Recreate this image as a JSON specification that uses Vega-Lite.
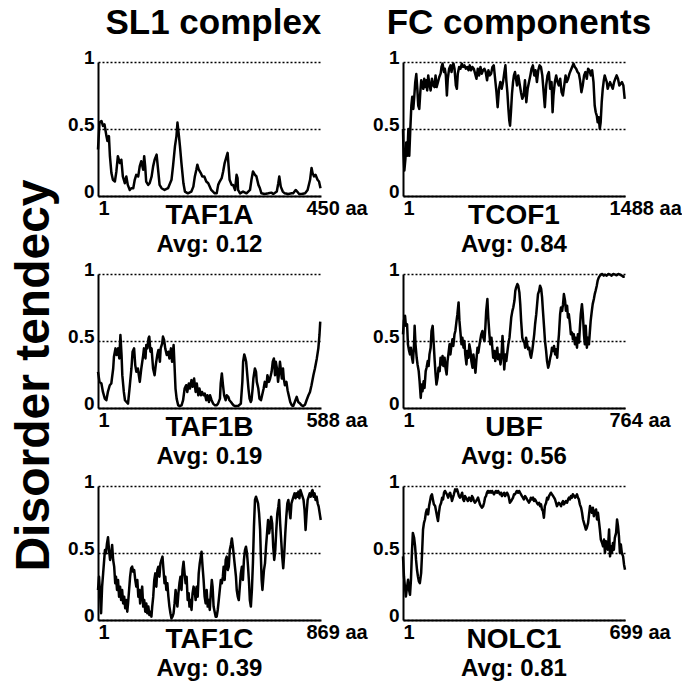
{
 "$schema": "https://vega.github.io/schema/vega-lite/v6.json",
 "padding": {"left": 10, "top": 6, "right": 0, "bottom": 0},
 "background": "white",
 "title": {"text": "Disorder tendecy", "orient": "left", "anchor": "middle", "frame": "bounds", "fontSize": 48, "fontWeight": "bold", "offset": 9, "dx": -32, "color": "black"},
 "datasets": {
  "taf1a": [
   {"residue":1,"score":0.347},{"residue":4,"score":0.548},{"residue":8,"score":0.56},{"residue":11,"score":0.523},{"residue":14,"score":0.535},{"residue":18,"score":0.447},{"residue":20,"score":0.41},{"residue":23,"score":0.447},{"residue":25,"score":0.297},{"residue":28,"score":0.171},{"residue":31,"score":0.121},{"residue":35,"score":0.108},{"residue":38,"score":0.183},{"residue":41,"score":0.297},{"residue":45,"score":0.246},{"residue":48,"score":0.271},{"residue":51,"score":0.146},{"residue":55,"score":0.095},{"residue":58,"score":0.146},{"residue":61,"score":0.083},{"residue":65,"score":0.045},{"residue":68,"score":0.058},{"residue":72,"score":0.058},{"residue":75,"score":0.121},{"residue":78,"score":0.158},{"residue":82,"score":0.146},{"residue":85,"score":0.221},{"residue":88,"score":0.259},{"residue":92,"score":0.196},{"residue":94,"score":0.297},{"residue":96,"score":0.221},{"residue":98,"score":0.108},{"residue":102,"score":0.083},{"residue":105,"score":0.095},{"residue":109,"score":0.146},{"residue":112,"score":0.221},{"residue":115,"score":0.271},{"residue":119,"score":0.309},{"residue":122,"score":0.196},{"residue":125,"score":0.083},{"residue":129,"score":0.058},{"residue":135,"score":0.045},{"residue":142,"score":0.058},{"residue":149,"score":0.121},{"residue":152,"score":0.221},{"residue":156,"score":0.372},{"residue":159,"score":0.447},{"residue":161,"score":0.548},{"residue":164,"score":0.447},{"residue":166,"score":0.372},{"residue":169,"score":0.246},{"residue":173,"score":0.095},{"residue":176,"score":0.033},{"residue":182,"score":0.02},{"residue":189,"score":0.033},{"residue":193,"score":0.07},{"residue":196,"score":0.146},{"residue":199,"score":0.196},{"residue":201,"score":0.234},{"residue":204,"score":0.196},{"residue":208,"score":0.171},{"residue":211,"score":0.146},{"residue":215,"score":0.146},{"residue":219,"score":0.108},{"residue":223,"score":0.095},{"residue":229,"score":0.045},{"residue":236,"score":0.02},{"residue":240,"score":0.02},{"residue":243,"score":0.083},{"residue":246,"score":0.108},{"residue":250,"score":0.133},{"residue":253,"score":0.183},{"residue":256,"score":0.246},{"residue":260,"score":0.297},{"residue":262,"score":0.322},{"residue":264,"score":0.221},{"residue":266,"score":0.121},{"residue":270,"score":0.083},{"residue":273,"score":0.083},{"residue":277,"score":0.045},{"residue":280,"score":0.158},{"residue":282,"score":0.133},{"residue":283,"score":0.045},{"residue":287,"score":0.02},{"residue":293,"score":0.033},{"residue":300,"score":0.02},{"residue":307,"score":0.045},{"residue":310,"score":0.121},{"residue":313,"score":0.183},{"residue":317,"score":0.158},{"residue":320,"score":0.146},{"residue":324,"score":0.083},{"residue":327,"score":0.058},{"residue":330,"score":0.02},{"residue":337,"score":0.015},{"residue":344,"score":0.02},{"residue":350,"score":0.025},{"residue":354,"score":0.015},{"residue":361,"score":0.033},{"residue":364,"score":0.095},{"residue":366,"score":0.146},{"residue":369,"score":0.07},{"residue":373,"score":0.033},{"residue":377,"score":0.02},{"residue":384,"score":0.015},{"residue":391,"score":0.02},{"residue":394,"score":0.02},{"residue":399,"score":0.045},{"residue":402,"score":0.033},{"residue":406,"score":0.015},{"residue":411,"score":0.015},{"residue":418,"score":0.02},{"residue":423,"score":0.045},{"residue":428,"score":0.121},{"residue":431,"score":0.209},{"residue":433,"score":0.171},{"residue":436,"score":0.146},{"residue":439,"score":0.158},{"residue":443,"score":0.121},{"residue":446,"score":0.108},{"residue":449,"score":0.058}
  ],
  "taf1b": [
   {"residue":1,"score":0.27},{"residue":5,"score":0.195},{"residue":10,"score":0.183},{"residue":14,"score":0.12},{"residue":19,"score":0.07},{"residue":23,"score":0.058},{"residue":27,"score":0.12},{"residue":32,"score":0.17},{"residue":36,"score":0.183},{"residue":41,"score":0.295},{"residue":43,"score":0.383},{"residue":47,"score":0.445},{"residue":50,"score":0.395},{"residue":54,"score":0.445},{"residue":57,"score":0.37},{"residue":60,"score":0.545},{"residue":63,"score":0.395},{"residue":65,"score":0.245},{"residue":69,"score":0.12},{"residue":72,"score":0.058},{"residue":76,"score":0.045},{"residue":80,"score":0.033},{"residue":84,"score":0.145},{"residue":89,"score":0.295},{"residue":92,"score":0.42},{"residue":96,"score":0.445},{"residue":99,"score":0.32},{"residue":102,"score":0.27},{"residue":106,"score":0.295},{"residue":111,"score":0.195},{"residue":115,"score":0.295},{"residue":120,"score":0.395},{"residue":122,"score":0.445},{"residue":126,"score":0.37},{"residue":128,"score":0.47},{"residue":131,"score":0.445},{"residue":134,"score":0.52},{"residue":136,"score":0.533},{"residue":139,"score":0.42},{"residue":142,"score":0.445},{"residue":146,"score":0.295},{"residue":150,"score":0.245},{"residue":153,"score":0.32},{"residue":157,"score":0.395},{"residue":160,"score":0.433},{"residue":164,"score":0.345},{"residue":166,"score":0.445},{"residue":170,"score":0.483},{"residue":172,"score":0.533},{"residue":175,"score":0.508},{"residue":178,"score":0.445},{"residue":182,"score":0.395},{"residue":186,"score":0.42},{"residue":189,"score":0.37},{"residue":193,"score":0.445},{"residue":196,"score":0.345},{"residue":200,"score":0.47},{"residue":202,"score":0.345},{"residue":205,"score":0.145},{"residue":208,"score":0.07},{"residue":212,"score":0.02},{"residue":216,"score":0.015},{"residue":221,"score":0.02},{"residue":225,"score":0.058},{"residue":229,"score":0.145},{"residue":233,"score":0.17},{"residue":236,"score":0.12},{"residue":240,"score":0.183},{"residue":243,"score":0.145},{"residue":247,"score":0.208},{"residue":250,"score":0.158},{"residue":254,"score":0.22},{"residue":258,"score":0.12},{"residue":261,"score":0.183},{"residue":265,"score":0.095},{"residue":268,"score":0.145},{"residue":272,"score":0.095},{"residue":275,"score":0.12},{"residue":279,"score":0.095},{"residue":282,"score":0.108},{"residue":286,"score":0.058},{"residue":289,"score":0.095},{"residue":293,"score":0.045},{"residue":296,"score":0.095},{"residue":300,"score":0.058},{"residue":304,"score":0.033},{"residue":309,"score":0.02},{"residue":313,"score":0.02},{"residue":317,"score":0.033},{"residue":322,"score":0.07},{"residue":324,"score":0.183},{"residue":327,"score":0.258},{"residue":330,"score":0.17},{"residue":333,"score":0.095},{"residue":337,"score":0.058},{"residue":340,"score":0.095},{"residue":344,"score":0.083},{"residue":347,"score":0.058},{"residue":351,"score":0.045},{"residue":354,"score":0.033},{"residue":358,"score":0.02},{"residue":361,"score":0.015},{"residue":370,"score":0.015},{"residue":377,"score":0.033},{"residue":381,"score":0.195},{"residue":383,"score":0.345},{"residue":386,"score":0.4},{"residue":389,"score":0.37},{"residue":391,"score":0.345},{"residue":394,"score":0.245},{"residue":397,"score":0.145},{"residue":400,"score":0.07},{"residue":403,"score":0.045},{"residue":405,"score":0.058},{"residue":408,"score":0.145},{"residue":410,"score":0.22},{"residue":414,"score":0.295},{"residue":417,"score":0.27},{"residue":419,"score":0.195},{"residue":423,"score":0.145},{"residue":426,"score":0.07},{"residue":430,"score":0.058},{"residue":433,"score":0.095},{"residue":437,"score":0.145},{"residue":440,"score":0.195},{"residue":444,"score":0.158},{"residue":447,"score":0.245},{"residue":451,"score":0.195},{"residue":454,"score":0.22},{"residue":458,"score":0.27},{"residue":461,"score":0.345},{"residue":464,"score":0.37},{"residue":467,"score":0.245},{"residue":469,"score":0.345},{"residue":472,"score":0.295},{"residue":475,"score":0.195},{"residue":477,"score":0.245},{"residue":480,"score":0.345},{"residue":483,"score":0.27},{"residue":485,"score":0.22},{"residue":488,"score":0.295},{"residue":490,"score":0.22},{"residue":493,"score":0.17},{"residue":497,"score":0.195},{"residue":500,"score":0.133},{"residue":504,"score":0.083},{"residue":507,"score":0.045},{"residue":511,"score":0.02},{"residue":515,"score":0.015},{"residue":519,"score":0.045},{"residue":524,"score":0.083},{"residue":528,"score":0.045},{"residue":533,"score":0.033},{"residue":537,"score":0.02},{"residue":541,"score":0.015},{"residue":546,"score":0.025},{"residue":550,"score":0.058},{"residue":555,"score":0.095},{"residue":559,"score":0.12},{"residue":563,"score":0.17},{"residue":568,"score":0.245},{"residue":572,"score":0.295},{"residue":577,"score":0.37},{"residue":581,"score":0.445},{"residue":584,"score":0.545},{"residue":586,"score":0.645}
  ],
  "taf1c": [
   {"residue":1,"score":0.224},{"residue":5,"score":0.323},{"residue":9,"score":0.199},{"residue":13,"score":0.05},{"residue":17,"score":0.249},{"residue":21,"score":0.348},{"residue":24,"score":0.423},{"residue":28,"score":0.522},{"residue":32,"score":0.498},{"residue":36,"score":0.572},{"residue":40,"score":0.617},{"residue":44,"score":0.522},{"residue":48,"score":0.448},{"residue":52,"score":0.485},{"residue":56,"score":0.56},{"residue":60,"score":0.448},{"residue":64,"score":0.398},{"residue":68,"score":0.274},{"residue":71,"score":0.323},{"residue":75,"score":0.224},{"residue":79,"score":0.299},{"residue":83,"score":0.174},{"residue":87,"score":0.249},{"residue":91,"score":0.149},{"residue":95,"score":0.224},{"residue":99,"score":0.124},{"residue":103,"score":0.174},{"residue":107,"score":0.087},{"residue":111,"score":0.149},{"residue":115,"score":0.062},{"residue":118,"score":0.124},{"residue":122,"score":0.224},{"residue":126,"score":0.323},{"residue":130,"score":0.386},{"residue":134,"score":0.398},{"residue":138,"score":0.361},{"residue":142,"score":0.373},{"residue":146,"score":0.299},{"residue":150,"score":0.249},{"residue":154,"score":0.299},{"residue":158,"score":0.174},{"residue":162,"score":0.224},{"residue":165,"score":0.124},{"residue":169,"score":0.199},{"residue":173,"score":0.249},{"residue":177,"score":0.1},{"residue":181,"score":0.149},{"residue":185,"score":0.062},{"residue":189,"score":0.124},{"residue":193,"score":0.05},{"residue":197,"score":0.1},{"residue":201,"score":0.037},{"residue":205,"score":0.062},{"residue":209,"score":0.025},{"residue":212,"score":0.1},{"residue":216,"score":0.174},{"residue":220,"score":0.299},{"residue":224,"score":0.348},{"residue":228,"score":0.249},{"residue":232,"score":0.373},{"residue":236,"score":0.398},{"residue":240,"score":0.323},{"residue":244,"score":0.423},{"residue":248,"score":0.448},{"residue":252,"score":0.473},{"residue":256,"score":0.373},{"residue":260,"score":0.274},{"residue":263,"score":0.323},{"residue":267,"score":0.224},{"residue":271,"score":0.274},{"residue":275,"score":0.174},{"residue":279,"score":0.1},{"residue":283,"score":0.05},{"residue":287,"score":0.012},{"residue":291,"score":0.025},{"residue":295,"score":0.05},{"residue":299,"score":0.124},{"residue":303,"score":0.224},{"residue":306,"score":0.174},{"residue":310,"score":0.1},{"residue":314,"score":0.199},{"residue":318,"score":0.274},{"residue":322,"score":0.323},{"residue":326,"score":0.224},{"residue":330,"score":0.373},{"residue":334,"score":0.435},{"residue":338,"score":0.348},{"residue":342,"score":0.274},{"residue":346,"score":0.323},{"residue":350,"score":0.149},{"residue":354,"score":0.199},{"residue":357,"score":0.1},{"residue":361,"score":0.149},{"residue":365,"score":0.075},{"residue":369,"score":0.199},{"residue":373,"score":0.249},{"residue":377,"score":0.224},{"residue":381,"score":0.149},{"residue":385,"score":0.249},{"residue":389,"score":0.174},{"residue":393,"score":0.348},{"residue":397,"score":0.423},{"residue":400,"score":0.46},{"residue":404,"score":0.51},{"residue":408,"score":0.398},{"residue":412,"score":0.299},{"residue":416,"score":0.174},{"residue":420,"score":0.124},{"residue":424,"score":0.224},{"residue":428,"score":0.1},{"residue":432,"score":0.149},{"residue":436,"score":0.075},{"residue":440,"score":0.199},{"residue":444,"score":0.299},{"residue":447,"score":0.249},{"residue":451,"score":0.1},{"residue":455,"score":0.062},{"residue":459,"score":0.025},{"residue":463,"score":0.025},{"residue":467,"score":0.075},{"residue":471,"score":0.149},{"residue":475,"score":0.224},{"residue":479,"score":0.299},{"residue":483,"score":0.274},{"residue":487,"score":0.323},{"residue":490,"score":0.398},{"residue":494,"score":0.299},{"residue":498,"score":0.448},{"residue":502,"score":0.473},{"residue":506,"score":0.373},{"residue":510,"score":0.398},{"residue":514,"score":0.522},{"residue":518,"score":0.56},{"residue":522,"score":0.609},{"residue":526,"score":0.547},{"residue":530,"score":0.473},{"residue":534,"score":0.398},{"residue":538,"score":0.323},{"residue":541,"score":0.224},{"residue":545,"score":0.174},{"residue":549,"score":0.149},{"residue":553,"score":0.249},{"residue":557,"score":0.348},{"residue":561,"score":0.398},{"residue":565,"score":0.299},{"residue":569,"score":0.448},{"residue":573,"score":0.522},{"residue":577,"score":0.547},{"residue":581,"score":0.498},{"residue":585,"score":0.398},{"residue":589,"score":0.274},{"residue":592,"score":0.149},{"residue":596,"score":0.1},{"residue":600,"score":0.224},{"residue":604,"score":0.423},{"residue":608,"score":0.697},{"residue":612,"score":0.896},{"residue":616,"score":0.92},{"residue":620,"score":0.896},{"residue":624,"score":0.871},{"residue":628,"score":0.796},{"residue":632,"score":0.672},{"residue":635,"score":0.473},{"residue":638,"score":0.299},{"residue":641,"score":0.224},{"residue":643,"score":0.274},{"residue":647,"score":0.373},{"residue":651,"score":0.423},{"residue":655,"score":0.547},{"residue":660,"score":0.672},{"residue":663,"score":0.746},{"residue":667,"score":0.647},{"residue":671,"score":0.697},{"residue":675,"score":0.771},{"residue":679,"score":0.721},{"residue":683,"score":0.547},{"residue":687,"score":0.448},{"residue":691,"score":0.522},{"residue":695,"score":0.672},{"residue":699,"score":0.796},{"residue":703,"score":0.846},{"residue":706,"score":0.896},{"residue":710,"score":0.721},{"residue":714,"score":0.597},{"residue":718,"score":0.473},{"residue":722,"score":0.386},{"residue":726,"score":0.498},{"residue":730,"score":0.647},{"residue":734,"score":0.771},{"residue":738,"score":0.871},{"residue":742,"score":0.896},{"residue":746,"score":0.821},{"residue":750,"score":0.759},{"residue":754,"score":0.871},{"residue":758,"score":0.896},{"residue":762,"score":0.92},{"residue":766,"score":0.945},{"residue":770,"score":0.908},{"residue":774,"score":0.945},{"residue":778,"score":0.92},{"residue":781,"score":0.958},{"residue":785,"score":0.908},{"residue":789,"score":0.97},{"residue":793,"score":0.945},{"residue":797,"score":0.92},{"residue":801,"score":0.896},{"residue":805,"score":0.821},{"residue":809,"score":0.672},{"residue":813,"score":0.796},{"residue":817,"score":0.896},{"residue":821,"score":0.92},{"residue":825,"score":0.945},{"residue":829,"score":0.92},{"residue":833,"score":0.958},{"residue":836,"score":0.97},{"residue":840,"score":0.92},{"residue":844,"score":0.945},{"residue":848,"score":0.896},{"residue":852,"score":0.92},{"residue":856,"score":0.871},{"residue":860,"score":0.846},{"residue":864,"score":0.796},{"residue":868,"score":0.746}
  ],
  "tcof1": [
   {"residue":1,"score":0.5},{"residue":5,"score":0.3},{"residue":10,"score":0.19},{"residue":17,"score":0.275},{"residue":23,"score":0.4},{"residue":30,"score":0.3},{"residue":37,"score":0.5},{"residue":43,"score":0.3},{"residue":50,"score":0.5},{"residue":57,"score":0.675},{"residue":63,"score":0.74},{"residue":70,"score":0.65},{"residue":77,"score":0.75},{"residue":83,"score":0.85},{"residue":90,"score":0.91},{"residue":97,"score":0.8},{"residue":103,"score":0.675},{"residue":110,"score":0.65},{"residue":117,"score":0.775},{"residue":123,"score":0.863},{"residue":130,"score":0.825},{"residue":137,"score":0.8},{"residue":143,"score":0.875},{"residue":150,"score":0.813},{"residue":157,"score":0.863},{"residue":163,"score":0.788},{"residue":170,"score":0.9},{"residue":177,"score":0.838},{"residue":186,"score":0.788},{"residue":195,"score":0.875},{"residue":204,"score":0.825},{"residue":212,"score":0.813},{"residue":219,"score":0.9},{"residue":226,"score":0.813},{"residue":235,"score":0.85},{"residue":244,"score":0.888},{"residue":253,"score":0.913},{"residue":259,"score":0.963},{"residue":266,"score":0.988},{"residue":275,"score":0.925},{"residue":281,"score":0.95},{"residue":288,"score":0.9},{"residue":295,"score":0.75},{"residue":301,"score":0.875},{"residue":310,"score":0.95},{"residue":319,"score":0.975},{"residue":326,"score":0.925},{"residue":333,"score":0.975},{"residue":339,"score":0.988},{"residue":346,"score":0.95},{"residue":355,"score":0.825},{"residue":362,"score":0.8},{"residue":368,"score":0.913},{"residue":377,"score":0.963},{"residue":386,"score":0.95},{"residue":395,"score":0.988},{"residue":404,"score":0.963},{"residue":413,"score":0.975},{"residue":422,"score":0.95},{"residue":431,"score":0.963},{"residue":440,"score":0.938},{"residue":448,"score":0.975},{"residue":457,"score":0.938},{"residue":466,"score":0.963},{"residue":475,"score":0.95},{"residue":484,"score":0.913},{"residue":493,"score":0.875},{"residue":502,"score":0.95},{"residue":511,"score":0.9},{"residue":520,"score":0.963},{"residue":529,"score":0.913},{"residue":537,"score":0.938},{"residue":546,"score":0.95},{"residue":555,"score":0.925},{"residue":564,"score":0.863},{"residue":573,"score":0.938},{"residue":582,"score":0.9},{"residue":591,"score":0.913},{"residue":600,"score":0.963},{"residue":609,"score":0.975},{"residue":618,"score":0.875},{"residue":627,"score":0.775},{"residue":635,"score":0.663},{"residue":644,"score":0.8},{"residue":653,"score":0.85},{"residue":662,"score":0.8},{"residue":671,"score":0.85},{"residue":680,"score":0.925},{"residue":687,"score":0.975},{"residue":693,"score":0.863},{"residue":700,"score":0.775},{"residue":707,"score":0.65},{"residue":713,"score":0.563},{"residue":718,"score":0.525},{"residue":724,"score":0.625},{"residue":731,"score":0.763},{"residue":738,"score":0.85},{"residue":744,"score":0.9},{"residue":751,"score":0.925},{"residue":758,"score":0.875},{"residue":765,"score":0.825},{"residue":773,"score":0.9},{"residue":782,"score":0.838},{"residue":791,"score":0.775},{"residue":800,"score":0.725},{"residue":809,"score":0.75},{"residue":818,"score":0.863},{"residue":827,"score":0.7},{"residue":836,"score":0.8},{"residue":845,"score":0.85},{"residue":854,"score":0.9},{"residue":862,"score":0.95},{"residue":871,"score":0.975},{"residue":880,"score":0.9},{"residue":889,"score":0.938},{"residue":898,"score":0.85},{"residue":907,"score":0.938},{"residue":916,"score":0.975},{"residue":925,"score":0.963},{"residue":934,"score":0.9},{"residue":943,"score":0.775},{"residue":951,"score":0.663},{"residue":960,"score":0.825},{"residue":969,"score":0.9},{"residue":978,"score":0.925},{"residue":987,"score":0.8},{"residue":996,"score":0.85},{"residue":1003,"score":0.625},{"residue":1009,"score":0.75},{"residue":1018,"score":0.85},{"residue":1027,"score":0.9},{"residue":1036,"score":0.85},{"residue":1045,"score":0.825},{"residue":1054,"score":0.875},{"residue":1063,"score":0.775},{"residue":1072,"score":0.75},{"residue":1081,"score":0.825},{"residue":1090,"score":0.9},{"residue":1098,"score":0.85},{"residue":1107,"score":0.875},{"residue":1116,"score":0.913},{"residue":1125,"score":0.938},{"residue":1134,"score":0.963},{"residue":1143,"score":0.988},{"residue":1152,"score":0.963},{"residue":1161,"score":0.95},{"residue":1170,"score":0.925},{"residue":1179,"score":0.913},{"residue":1187,"score":0.863},{"residue":1196,"score":0.775},{"residue":1205,"score":0.825},{"residue":1214,"score":0.9},{"residue":1223,"score":0.925},{"residue":1232,"score":0.875},{"residue":1241,"score":0.95},{"residue":1250,"score":0.938},{"residue":1259,"score":0.9},{"residue":1268,"score":0.938},{"residue":1277,"score":0.85},{"residue":1285,"score":0.675},{"residue":1292,"score":0.625},{"residue":1299,"score":0.6},{"residue":1305,"score":0.55},{"residue":1312,"score":0.588},{"residue":1319,"score":0.5},{"residue":1325,"score":0.55},{"residue":1332,"score":0.7},{"residue":1339,"score":0.8},{"residue":1346,"score":0.863},{"residue":1352,"score":0.9},{"residue":1359,"score":0.875},{"residue":1366,"score":0.85},{"residue":1372,"score":0.8},{"residue":1379,"score":0.825},{"residue":1388,"score":0.85},{"residue":1397,"score":0.825},{"residue":1406,"score":0.8},{"residue":1415,"score":0.85},{"residue":1423,"score":0.875},{"residue":1432,"score":0.9},{"residue":1441,"score":0.875},{"residue":1450,"score":0.825},{"residue":1459,"score":0.838},{"residue":1468,"score":0.85},{"residue":1477,"score":0.825},{"residue":1486,"score":0.725}
  ],
  "ubf": [
   {"residue":1,"score":0.55},{"residue":4,"score":0.65},{"residue":8,"score":0.688},{"residue":11,"score":0.613},{"residue":15,"score":0.625},{"residue":18,"score":0.475},{"residue":22,"score":0.425},{"residue":25,"score":0.4},{"residue":28,"score":0.45},{"residue":32,"score":0.375},{"residue":35,"score":0.338},{"residue":39,"score":0.475},{"residue":41,"score":0.613},{"residue":44,"score":0.475},{"residue":48,"score":0.375},{"residue":51,"score":0.325},{"residue":55,"score":0.275},{"residue":58,"score":0.2},{"residue":62,"score":0.075},{"residue":65,"score":0.175},{"residue":68,"score":0.125},{"residue":72,"score":0.2},{"residue":75,"score":0.15},{"residue":79,"score":0.275},{"residue":82,"score":0.3},{"residue":86,"score":0.35},{"residue":89,"score":0.313},{"residue":92,"score":0.4},{"residue":96,"score":0.45},{"residue":99,"score":0.575},{"residue":103,"score":0.613},{"residue":106,"score":0.5},{"residue":110,"score":0.35},{"residue":113,"score":0.25},{"residue":116,"score":0.175},{"residue":120,"score":0.225},{"residue":123,"score":0.3},{"residue":127,"score":0.275},{"residue":130,"score":0.375},{"residue":133,"score":0.325},{"residue":137,"score":0.388},{"residue":140,"score":0.313},{"residue":144,"score":0.375},{"residue":147,"score":0.3},{"residue":151,"score":0.25},{"residue":154,"score":0.35},{"residue":157,"score":0.4},{"residue":161,"score":0.475},{"residue":164,"score":0.4},{"residue":168,"score":0.475},{"residue":171,"score":0.513},{"residue":174,"score":0.463},{"residue":178,"score":0.55},{"residue":181,"score":0.575},{"residue":185,"score":0.65},{"residue":188,"score":0.7},{"residue":192,"score":0.788},{"residue":195,"score":0.65},{"residue":199,"score":0.55},{"residue":202,"score":0.475},{"residue":205,"score":0.525},{"residue":209,"score":0.45},{"residue":212,"score":0.5},{"residue":215,"score":0.4},{"residue":219,"score":0.325},{"residue":222,"score":0.425},{"residue":226,"score":0.375},{"residue":229,"score":0.475},{"residue":233,"score":0.425},{"residue":236,"score":0.35},{"residue":240,"score":0.3},{"residue":243,"score":0.4},{"residue":247,"score":0.325},{"residue":250,"score":0.263},{"residue":253,"score":0.35},{"residue":257,"score":0.45},{"residue":260,"score":0.413},{"residue":264,"score":0.475},{"residue":267,"score":0.513},{"residue":270,"score":0.55},{"residue":274,"score":0.575},{"residue":277,"score":0.525},{"residue":281,"score":0.5},{"residue":284,"score":0.6},{"residue":287,"score":0.725},{"residue":291,"score":0.813},{"residue":294,"score":0.675},{"residue":298,"score":0.55},{"residue":301,"score":0.475},{"residue":305,"score":0.525},{"residue":308,"score":0.45},{"residue":311,"score":0.375},{"residue":315,"score":0.425},{"residue":318,"score":0.35},{"residue":321,"score":0.4},{"residue":325,"score":0.45},{"residue":328,"score":0.363},{"residue":332,"score":0.4},{"residue":336,"score":0.325},{"residue":339,"score":0.375},{"residue":343,"score":0.538},{"residue":346,"score":0.425},{"residue":349,"score":0.288},{"residue":353,"score":0.4},{"residue":356,"score":0.35},{"residue":360,"score":0.425},{"residue":363,"score":0.475},{"residue":367,"score":0.525},{"residue":370,"score":0.6},{"residue":373,"score":0.675},{"residue":377,"score":0.725},{"residue":380,"score":0.75},{"residue":384,"score":0.8},{"residue":387,"score":0.875},{"residue":390,"score":0.9},{"residue":394,"score":0.925},{"residue":397,"score":0.913},{"residue":401,"score":0.863},{"residue":404,"score":0.775},{"residue":407,"score":0.65},{"residue":411,"score":0.525},{"residue":414,"score":0.5},{"residue":418,"score":0.488},{"residue":421,"score":0.45},{"residue":424,"score":0.525},{"residue":428,"score":0.475},{"residue":431,"score":0.438},{"residue":435,"score":0.45},{"residue":438,"score":0.4},{"residue":441,"score":0.375},{"residue":445,"score":0.425},{"residue":448,"score":0.475},{"residue":452,"score":0.55},{"residue":455,"score":0.625},{"residue":459,"score":0.7},{"residue":462,"score":0.775},{"residue":465,"score":0.85},{"residue":469,"score":0.875},{"residue":472,"score":0.913},{"residue":476,"score":0.888},{"residue":479,"score":0.825},{"residue":482,"score":0.725},{"residue":486,"score":0.6},{"residue":489,"score":0.5},{"residue":493,"score":0.425},{"residue":496,"score":0.35},{"residue":500,"score":0.3},{"residue":503,"score":0.325},{"residue":507,"score":0.375},{"residue":510,"score":0.4},{"residue":513,"score":0.45},{"residue":517,"score":0.425},{"residue":520,"score":0.463},{"residue":524,"score":0.4},{"residue":527,"score":0.438},{"residue":531,"score":0.375},{"residue":534,"score":0.475},{"residue":537,"score":0.55},{"residue":541,"score":0.7},{"residue":544,"score":0.75},{"residue":548,"score":0.725},{"residue":551,"score":0.775},{"residue":554,"score":0.85},{"residue":558,"score":0.8},{"residue":561,"score":0.725},{"residue":565,"score":0.763},{"residue":568,"score":0.675},{"residue":571,"score":0.7},{"residue":575,"score":0.625},{"residue":578,"score":0.55},{"residue":582,"score":0.563},{"residue":585,"score":0.513},{"residue":588,"score":0.55},{"residue":592,"score":0.475},{"residue":595,"score":0.525},{"residue":599,"score":0.45},{"residue":602,"score":0.55},{"residue":606,"score":0.488},{"residue":609,"score":0.6},{"residue":612,"score":0.7},{"residue":616,"score":0.775},{"residue":619,"score":0.7},{"residue":623,"score":0.55},{"residue":626,"score":0.475},{"residue":629,"score":0.613},{"residue":633,"score":0.45},{"residue":636,"score":0.525},{"residue":640,"score":0.475},{"residue":643,"score":0.563},{"residue":646,"score":0.65},{"residue":650,"score":0.725},{"residue":653,"score":0.775},{"residue":657,"score":0.813},{"residue":660,"score":0.85},{"residue":663,"score":0.875},{"residue":667,"score":0.913},{"residue":670,"score":0.95},{"residue":674,"score":0.975},{"residue":678,"score":0.988},{"residue":681,"score":0.995},{"residue":686,"score":1.0},{"residue":691,"score":0.988},{"residue":695,"score":0.995},{"residue":701,"score":0.988},{"residue":707,"score":1.0},{"residue":713,"score":0.995},{"residue":718,"score":0.988},{"residue":724,"score":1.0},{"residue":730,"score":0.995},{"residue":735,"score":0.99},{"residue":741,"score":1.0},{"residue":747,"score":0.995},{"residue":753,"score":0.988},{"residue":758,"score":0.98},{"residue":763,"score":0.983}
  ],
  "nolc1": [
   {"residue":1,"score":0.475},{"residue":4,"score":0.325},{"residue":7,"score":0.25},{"residue":10,"score":0.175},{"residue":14,"score":0.25},{"residue":17,"score":0.3},{"residue":20,"score":0.225},{"residue":23,"score":0.188},{"residue":26,"score":0.3},{"residue":29,"score":0.5},{"residue":32,"score":0.65},{"residue":36,"score":0.613},{"residue":39,"score":0.55},{"residue":42,"score":0.45},{"residue":45,"score":0.375},{"residue":48,"score":0.325},{"residue":51,"score":0.288},{"residue":54,"score":0.275},{"residue":58,"score":0.35},{"residue":61,"score":0.5},{"residue":64,"score":0.675},{"residue":67,"score":0.725},{"residue":70,"score":0.75},{"residue":73,"score":0.8},{"residue":76,"score":0.825},{"residue":80,"score":0.788},{"residue":83,"score":0.85},{"residue":86,"score":0.888},{"residue":89,"score":0.925},{"residue":92,"score":0.938},{"residue":95,"score":0.9},{"residue":98,"score":0.863},{"residue":102,"score":0.85},{"residue":105,"score":0.813},{"residue":108,"score":0.775},{"residue":111,"score":0.738},{"residue":114,"score":0.8},{"residue":117,"score":0.85},{"residue":121,"score":0.875},{"residue":124,"score":0.913},{"residue":127,"score":0.9},{"residue":130,"score":0.95},{"residue":133,"score":0.963},{"residue":136,"score":0.95},{"residue":139,"score":0.938},{"residue":143,"score":0.913},{"residue":146,"score":0.938},{"residue":149,"score":0.95},{"residue":152,"score":0.925},{"residue":155,"score":0.888},{"residue":158,"score":0.913},{"residue":161,"score":0.938},{"residue":165,"score":0.975},{"residue":168,"score":0.963},{"residue":171,"score":0.975},{"residue":174,"score":0.95},{"residue":177,"score":0.925},{"residue":180,"score":0.913},{"residue":183,"score":0.925},{"residue":187,"score":0.95},{"residue":190,"score":0.9},{"residue":193,"score":0.888},{"residue":196,"score":0.925},{"residue":199,"score":0.913},{"residue":202,"score":0.9},{"residue":205,"score":0.888},{"residue":209,"score":0.913},{"residue":212,"score":0.9},{"residue":215,"score":0.888},{"residue":218,"score":0.925},{"residue":221,"score":0.913},{"residue":224,"score":0.888},{"residue":227,"score":0.875},{"residue":231,"score":0.888},{"residue":234,"score":0.9},{"residue":237,"score":0.913},{"residue":240,"score":0.888},{"residue":243,"score":0.863},{"residue":246,"score":0.85},{"residue":249,"score":0.838},{"residue":253,"score":0.85},{"residue":256,"score":0.875},{"residue":259,"score":0.913},{"residue":262,"score":0.925},{"residue":265,"score":0.95},{"residue":268,"score":0.963},{"residue":271,"score":0.95},{"residue":275,"score":0.963},{"residue":278,"score":0.95},{"residue":281,"score":0.963},{"residue":284,"score":0.95},{"residue":287,"score":0.938},{"residue":290,"score":0.95},{"residue":293,"score":0.963},{"residue":297,"score":0.95},{"residue":300,"score":0.963},{"residue":303,"score":0.95},{"residue":306,"score":0.938},{"residue":309,"score":0.95},{"residue":312,"score":0.925},{"residue":315,"score":0.938},{"residue":319,"score":0.95},{"residue":322,"score":0.925},{"residue":325,"score":0.938},{"residue":328,"score":0.95},{"residue":331,"score":0.938},{"residue":334,"score":0.913},{"residue":337,"score":0.875},{"residue":341,"score":0.888},{"residue":344,"score":0.9},{"residue":347,"score":0.913},{"residue":350,"score":0.938},{"residue":353,"score":0.938},{"residue":356,"score":0.95},{"residue":359,"score":0.963},{"residue":363,"score":0.95},{"residue":366,"score":0.963},{"residue":369,"score":0.95},{"residue":372,"score":0.938},{"residue":375,"score":0.925},{"residue":378,"score":0.913},{"residue":381,"score":0.9},{"residue":385,"score":0.925},{"residue":388,"score":0.913},{"residue":391,"score":0.9},{"residue":394,"score":0.888},{"residue":397,"score":0.875},{"residue":400,"score":0.888},{"residue":403,"score":0.913},{"residue":407,"score":0.9},{"residue":410,"score":0.913},{"residue":413,"score":0.888},{"residue":416,"score":0.9},{"residue":419,"score":0.888},{"residue":422,"score":0.875},{"residue":425,"score":0.863},{"residue":429,"score":0.875},{"residue":432,"score":0.85},{"residue":435,"score":0.863},{"residue":438,"score":0.825},{"residue":441,"score":0.813},{"residue":444,"score":0.763},{"residue":447,"score":0.85},{"residue":451,"score":0.875},{"residue":454,"score":0.913},{"residue":457,"score":0.9},{"residue":460,"score":0.925},{"residue":463,"score":0.938},{"residue":466,"score":0.95},{"residue":469,"score":0.938},{"residue":473,"score":0.925},{"residue":476,"score":0.913},{"residue":479,"score":0.9},{"residue":482,"score":0.875},{"residue":485,"score":0.85},{"residue":488,"score":0.863},{"residue":491,"score":0.875},{"residue":495,"score":0.863},{"residue":498,"score":0.85},{"residue":501,"score":0.875},{"residue":504,"score":0.888},{"residue":507,"score":0.863},{"residue":510,"score":0.875},{"residue":513,"score":0.888},{"residue":517,"score":0.875},{"residue":520,"score":0.9},{"residue":523,"score":0.913},{"residue":526,"score":0.9},{"residue":529,"score":0.925},{"residue":532,"score":0.913},{"residue":535,"score":0.938},{"residue":539,"score":0.925},{"residue":542,"score":0.913},{"residue":545,"score":0.925},{"residue":548,"score":0.938},{"residue":551,"score":0.913},{"residue":554,"score":0.9},{"residue":557,"score":0.863},{"residue":561,"score":0.838},{"residue":564,"score":0.8},{"residue":567,"score":0.75},{"residue":570,"score":0.725},{"residue":573,"score":0.7},{"residue":576,"score":0.675},{"residue":579,"score":0.688},{"residue":583,"score":0.725},{"residue":586,"score":0.788},{"residue":589,"score":0.85},{"residue":592,"score":0.825},{"residue":595,"score":0.8},{"residue":598,"score":0.838},{"residue":601,"score":0.775},{"residue":605,"score":0.813},{"residue":608,"score":0.825},{"residue":611,"score":0.75},{"residue":614,"score":0.8},{"residue":617,"score":0.738},{"residue":620,"score":0.675},{"residue":623,"score":0.6},{"residue":627,"score":0.575},{"residue":630,"score":0.55},{"residue":633,"score":0.6},{"residue":636,"score":0.5},{"residue":639,"score":0.588},{"residue":642,"score":0.55},{"residue":645,"score":0.525},{"residue":649,"score":0.675},{"residue":652,"score":0.475},{"residue":655,"score":0.55},{"residue":658,"score":0.5},{"residue":661,"score":0.575},{"residue":664,"score":0.525},{"residue":667,"score":0.613},{"residue":671,"score":0.65},{"residue":674,"score":0.75},{"residue":677,"score":0.7},{"residue":680,"score":0.625},{"residue":683,"score":0.5},{"residue":686,"score":0.563},{"residue":689,"score":0.5},{"residue":693,"score":0.475},{"residue":696,"score":0.413},{"residue":699,"score":0.375}
  ]
 },
 "hconcat": [
  {
   "title": {"text": "SL1 complex", "orient": "top", "anchor": "middle", "frame": "bounds", "fontSize": 35, "offset": 7, "dx": -4},
   "spacing": 3,
   "vconcat": [
    {
     "data": {"name": "taf1a"}, "width": 223, "height": 134,
     "title": {"text": "TAF1A", "subtitle": "Avg: 0.12"},
     "mark": {"type": "line", "color": "black", "strokeWidth": 2.5, "strokeJoin": "round"},
     "encoding": {
      "x": {"field": "residue", "type": "quantitative", "scale": {"domain": [1, 450], "nice": false, "zero": false},
            "axis": {"title": null, "values": [1, 450], "labelExpr": "datum.value == 1 ? '1' : datum.value + ' aa'", "labelOffset": {"condition": {"test": "datum.value == 1", "value": 0}, "value": -15}}},
      "y": {"field": "score", "type": "quantitative", "scale": {"domain": [0, 1], "nice": false},
            "axis": {"title": null, "values": [0, 0.5, 1], "labelExpr": "datum.value + ''"}}
     }
    },
    {
     "data": {"name": "taf1b"}, "width": 223, "height": 134,
     "title": {"text": "TAF1B", "subtitle": "Avg: 0.19"},
     "mark": {"type": "line", "color": "black", "strokeWidth": 2.5, "strokeJoin": "round"},
     "encoding": {
      "x": {"field": "residue", "type": "quantitative", "scale": {"domain": [1, 588], "nice": false, "zero": false},
            "axis": {"title": null, "values": [1, 588], "labelExpr": "datum.value == 1 ? '1' : datum.value + ' aa'", "labelOffset": {"condition": {"test": "datum.value == 1", "value": 0}, "value": -15}}},
      "y": {"field": "score", "type": "quantitative", "scale": {"domain": [0, 1], "nice": false},
            "axis": {"title": null, "values": [0, 0.5, 1], "labelExpr": "datum.value + ''"}}
     }
    },
    {
     "data": {"name": "taf1c"}, "width": 223, "height": 134,
     "title": {"text": "TAF1C", "subtitle": "Avg: 0.39"},
     "mark": {"type": "line", "color": "black", "strokeWidth": 2.5, "strokeJoin": "round"},
     "encoding": {
      "x": {"field": "residue", "type": "quantitative", "scale": {"domain": [1, 869], "nice": false, "zero": false},
            "axis": {"title": null, "values": [1, 869], "labelExpr": "datum.value == 1 ? '1' : datum.value + ' aa'", "labelOffset": {"condition": {"test": "datum.value == 1", "value": 0}, "value": -15}}},
      "y": {"field": "score", "type": "quantitative", "scale": {"domain": [0, 1], "nice": false},
            "axis": {"title": null, "values": [0, 0.5, 1], "labelExpr": "datum.value + ''"}}
     }
    }
   ]
  },
  {
   "title": {"text": "FC components", "orient": "top", "anchor": "middle", "frame": "bounds", "fontSize": 35, "offset": 7, "dx": -8},
   "spacing": 3,
   "vconcat": [
    {
     "data": {"name": "tcof1"}, "width": 222, "height": 134,
     "title": {"text": "TCOF1", "subtitle": "Avg: 0.84"},
     "mark": {"type": "line", "color": "black", "strokeWidth": 2.5, "strokeJoin": "round"},
     "encoding": {
      "x": {"field": "residue", "type": "quantitative", "scale": {"domain": [1, 1488], "nice": false, "zero": false},
            "axis": {"title": null, "values": [1, 1488], "labelExpr": "datum.value == 1 ? '1' : datum.value + ' aa'", "labelOffset": {"condition": {"test": "datum.value == 1", "value": 0}, "value": -16}}},
      "y": {"field": "score", "type": "quantitative", "scale": {"domain": [0, 1], "nice": false},
            "axis": {"title": null, "values": [0, 0.5, 1], "labelExpr": "datum.value + ''"}}
     }
    },
    {
     "data": {"name": "ubf"}, "width": 222, "height": 134,
     "title": {"text": "UBF", "subtitle": "Avg: 0.56"},
     "mark": {"type": "line", "color": "black", "strokeWidth": 2.5, "strokeJoin": "round"},
     "encoding": {
      "x": {"field": "residue", "type": "quantitative", "scale": {"domain": [1, 764], "nice": false, "zero": false},
            "axis": {"title": null, "values": [1, 764], "labelExpr": "datum.value == 1 ? '1' : datum.value + ' aa'", "labelOffset": {"condition": {"test": "datum.value == 1", "value": 0}, "value": -16}}},
      "y": {"field": "score", "type": "quantitative", "scale": {"domain": [0, 1], "nice": false},
            "axis": {"title": null, "values": [0, 0.5, 1], "labelExpr": "datum.value + ''"}}
     }
    },
    {
     "data": {"name": "nolc1"}, "width": 222, "height": 134,
     "title": {"text": "NOLC1", "subtitle": "Avg: 0.81"},
     "mark": {"type": "line", "color": "black", "strokeWidth": 2.5, "strokeJoin": "round"},
     "encoding": {
      "x": {"field": "residue", "type": "quantitative", "scale": {"domain": [1, 699], "nice": false, "zero": false},
            "axis": {"title": null, "values": [1, 699], "labelExpr": "datum.value == 1 ? '1' : datum.value + ' aa'", "labelOffset": {"condition": {"test": "datum.value == 1", "value": 0}, "value": -16}}},
      "y": {"field": "score", "type": "quantitative", "scale": {"domain": [0, 1], "nice": false},
            "axis": {"title": null, "values": [0, 0.5, 1], "labelExpr": "datum.value + ''"}}
     }
    }
   ]
  }
 ],
 "spacing": 4,
 "config": {
  "view": {"stroke": null},
  "font": "Liberation Sans",
  "axis": {"domainColor": "black", "domainWidth": 2, "ticks": false, "labelFontWeight": "bold", "labelColor": "black", "grid": false, "labelFlush": false, "labelOverlap": false},
  "axisX": {"labelFontSize": 20, "labelPadding": 2, "labelAlign": "left", "labelBaseline": "top"},
  "axisY": {"grid": true, "gridDash": [2, 2], "gridColor": "black", "gridWidth": 1.5, "labelFontSize": 19, "labelPadding": 4, "labelBaseline": "alphabetic", "labelOffset": 1},
  "title": {"orient": "bottom", "fontSize": 28, "fontWeight": "bold", "subtitleFontSize": 24, "subtitleFontWeight": "bold", "color": "black", "subtitleColor": "black", "subtitleFont": "Liberation Sans", "anchor": "middle", "frame": "group", "offset": -16, "subtitlePadding": 0}
 }
}
